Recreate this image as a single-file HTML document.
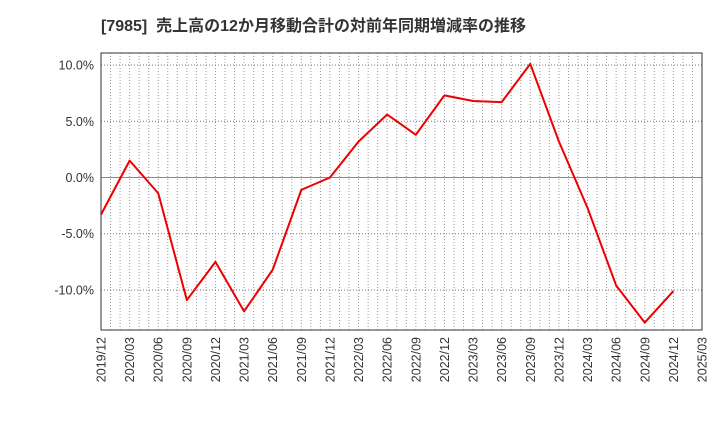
<!DOCTYPE html>
<html><head><meta charset="utf-8"><style>
body{margin:0;background:#fff;}
svg text{font-family:"Liberation Sans","Noto Sans CJK JP",sans-serif;}
</style></head><body>
<svg id="c" width="720" height="440">
<text x="101" y="31" font-size="16" font-weight="bold" fill="#333" xml:space="preserve" style="white-space:pre">[7985]  売上高の12か月移動合計の対前年同期増減率の推移</text>
<g id="grid"></g><g id="axes"></g><g id="series"></g>
</svg>
<script>
const categories=["2019/12","2020/03","2020/06","2020/09","2020/12","2021/03","2021/06","2021/09","2021/12","2022/03","2022/06","2022/09","2022/12","2023/03","2023/06","2023/09","2023/12","2024/03","2024/06","2024/09","2024/12","2025/03"];
const values=[-3.3,1.5,-1.4,-10.9,-7.5,-11.9,-8.2,-1.1,0.0,3.2,5.6,3.8,7.3,6.8,6.7,10.1,3.2,-2.7,-9.6,-12.9,-10.1];
const yTicks=[10,5,0,-5,-10];
const yLabels=["10.0%","5.0%","0.0%","-5.0%","-10.0%"];
const L=101,R=702,T=53,B=330,yMax=11.07,yMin=-13.56;
const ns="http://www.w3.org/2000/svg";
const step=(R-L)/(categories.length-1);
const xS=i=>L+i*step;
const yS=v=>T+(yMax-v)/(yMax-yMin)*(B-T);
function mk(t,a,p){const e=document.createElementNS(ns,t);for(const k in a)e.setAttribute(k,a[k]);p.appendChild(e);return e;}
const g=document.getElementById('grid'),ax=document.getElementById('axes'),s=document.getElementById('series');
for(let m=1;m<(categories.length-1)*3;m++){const x=L+m*step/3;
const ln=mk('line',{x1:x,x2:x,y1:T,y2:B,stroke:'#999','stroke-dasharray':'1,2','stroke-width':1},g);

}
yTicks.forEach((v,i)=>{const y=yS(v);
const ln=mk('line',{x1:L,x2:R,y1:y,y2:y,stroke:v===0?'#888':'#777','stroke-dasharray':v===0?'none':'1,2','stroke-width':1},g);


const t=mk('text',{x:L-7,y:y+4.5,'text-anchor':'end','font-size':12.5,fill:'#333'},ax);t.textContent=yLabels[i];

});
const fr=mk('rect',{x:L,y:T,width:R-L,height:B-T,fill:'none',stroke:'#333','stroke-width':1},ax);


categories.forEach((c,i)=>{const x=xS(i);
const t=mk('text',{x:x+4.5,y:B+7,'text-anchor':'end','font-size':12.5,fill:'#333',transform:`rotate(-90 ${x+4.5} ${B+7})`},ax);t.textContent=c;

});
const pl=mk('polyline',{points:values.map((v,i)=>xS(i)+','+yS(v)).join(' '),fill:'none',stroke:'#e00','stroke-width':2,'stroke-linejoin':'round'},s);


</script>
</body></html>
